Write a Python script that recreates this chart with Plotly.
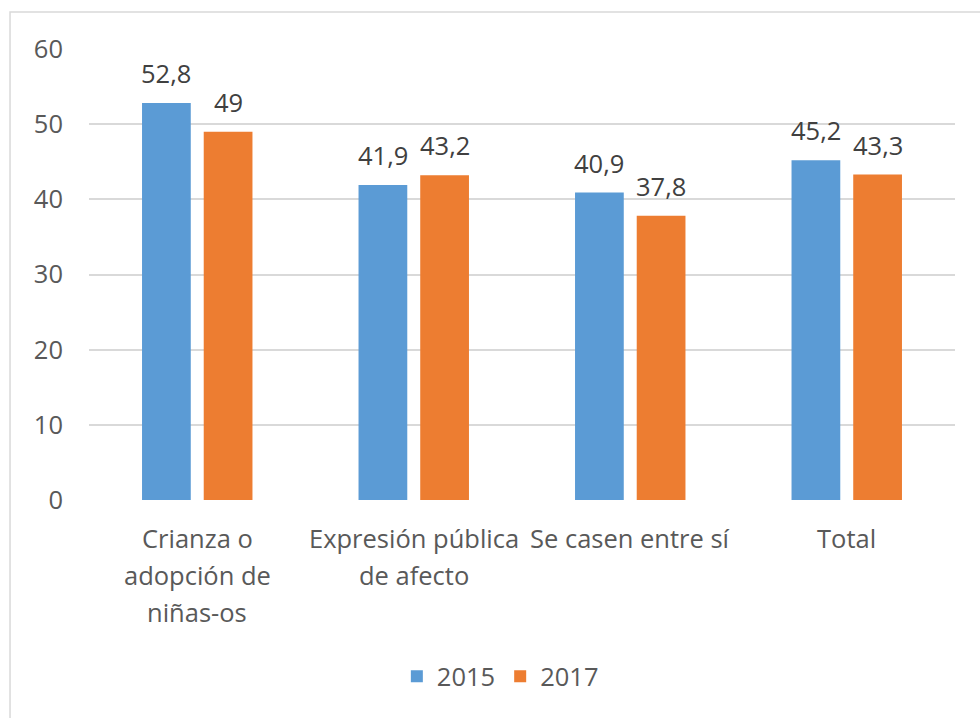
import plotly.graph_objects as go

categories = ["Crianza o\nadopción de\nniñas-os", "Expresión pública\nde afecto", "Se casen entre sí", "Total"]
series_names = ["2015", "2017"]
values_2015 = [52.8, 41.9, 40.9, 45.2]
values_2017 = [49, 43.2, 37.8, 43.3]
y_ticks = [0, 10, 20, 30, 40, 50, 60]

colors = ["#5B9BD5", "#ED7D31"]
FONT = "Open Sans"
FS = 25.5
bargap = 0.43
bargroupgap = 0.21

x_idx = list(range(len(categories)))
fig = go.Figure()
for name, vals, col in zip(series_names, [values_2015, values_2017], colors):
    fig.add_trace(go.Bar(x=x_idx, y=vals, name=name, marker=dict(color=col, line=dict(width=0))))

annotations = []
# data labels
slot = (1 - bargap) / 2
for s, vals in enumerate([values_2015, values_2017]):
    off = (s - 0.5) * slot
    for i, v in enumerate(vals):
        annotations.append(dict(
            x=i + off, y=v, xref="x", yref="y", text=f"{v:g}".replace(".", ","),
            showarrow=False, yanchor="bottom", yshift=11,
            font=dict(family=FONT, size=FS, color="#404040")))
# category labels (one annotation per line)
for i, cat in enumerate(categories):
    for k, line in enumerate(cat.split("\n")):
        annotations.append(dict(
            x=i, y=0, xref="x", yref="paper", text=line, showarrow=False,
            yanchor="middle", yshift=-(38 + 37 * k),
            font=dict(family=FONT, size=FS, color="#595959")))

fig.update_layout(
    width=980, height=718,
    margin=dict(l=89, r=25, t=49, b=218),
    paper_bgcolor="white", plot_bgcolor="white",
    barmode="group", bargap=bargap, bargroupgap=bargroupgap,
    font=dict(family=FONT, size=FS, color="#595959"),
    showlegend=True,
    legend=dict(orientation="h", x=0.475, xanchor="center", y=-0.392, yanchor="middle",
                font=dict(family=FONT, size=FS, color="#595959"), itemwidth=30,
                traceorder="normal"),
    annotations=annotations,
    shapes=[dict(type="rect", xref="paper", yref="paper", x0=-0.0912, x1=1.3, y0=-0.7, y1=1.082,
                 line=dict(color="#D9D9D9", width=1.5), fillcolor="rgba(0,0,0,0)", layer="below")],
)
fig.update_xaxes(range=[-0.5, len(categories) - 0.5], showticklabels=False, showgrid=False,
                 zeroline=False, showline=False, ticks="")
fig.update_yaxes(range=[0, 60], tickvals=y_ticks, showgrid=True, gridcolor="#D9D9D9", gridwidth=1.5,
                 zeroline=False, showline=False, ticks="", ticklabelstandoff=25,
                 tickfont=dict(family=FONT, size=FS, color="#595959"))

fig.write_html("out.html")
